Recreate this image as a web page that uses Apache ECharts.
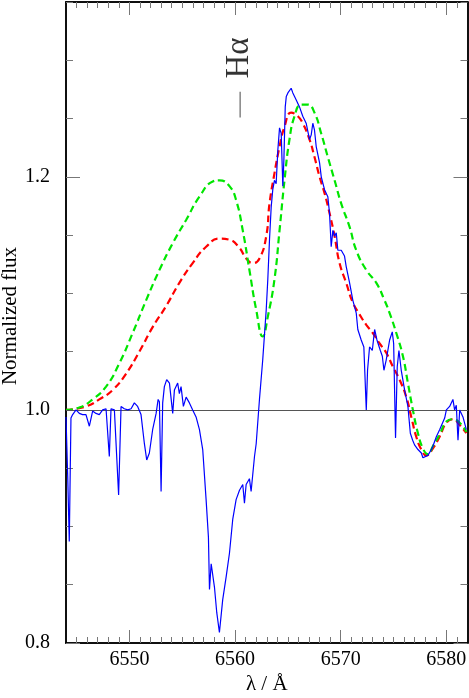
<!DOCTYPE html>
<html><head><meta charset="utf-8">
<script src="https://cdn.jsdelivr.net/npm/echarts@6/dist/echarts.min.js"></script>
<style>html,body{margin:0;padding:0;background:#fff}#c{width:469px;height:698px}</style>
</head><body><div id="c"></div>
<script>
// Observed spectrum (blue): [wavelength Å, normalized flux]
const observed = [
[6544.00,0.994],[6544.17,0.940],[6544.31,0.887],[6544.47,0.993],[6544.63,0.996],[6544.95,1.000],[6545.26,0.997],[6545.57,0.996],[6545.89,0.996],[6546.21,0.986],[6546.52,0.999],[6546.84,0.997],[6547.15,0.996],[6547.47,1.000],[6547.79,1.001],[6548.10,0.960],[6548.26,1.001],[6548.58,1.000],[6548.98,0.927],[6549.21,1.003],[6549.52,1.001],[6549.84,1.000],[6550.16,1.001],[6550.47,1.006],[6550.78,1.003],[6551.10,0.996],[6551.42,0.971],[6551.64,0.957],[6551.89,0.963],[6552.20,0.983],[6552.53,0.997],[6552.72,1.009],[6552.84,1.007],[6553.00,0.930],[6553.15,1.006],[6553.31,1.020],[6553.53,1.026],[6553.79,1.023],[6554.10,0.997],[6554.26,1.017],[6554.57,1.023],[6554.73,1.014],[6554.89,1.020],[6555.11,1.003],[6555.37,1.011],[6555.68,1.006],[6555.99,1.000],[6556.31,0.994],[6556.63,0.983],[6556.94,0.966],[6557.26,0.923],[6557.48,0.891],[6557.58,0.846],[6557.74,0.868],[6558.05,0.848],[6558.27,0.826],[6558.52,0.809],[6558.83,0.837],[6559.16,0.857],[6559.47,0.877],[6559.78,0.906],[6560.10,0.923],[6560.42,0.931],[6560.73,0.936],[6560.89,0.920],[6561.05,0.936],[6561.36,0.941],[6561.52,0.930],[6561.84,0.960],[6562.00,0.971],[6562.31,1.009],[6562.62,1.043],[6562.95,1.086],[6563.10,1.112],[6563.26,1.146],[6563.42,1.174],[6563.57,1.189],[6563.73,1.197],[6563.89,1.194],[6564.05,1.223],[6564.21,1.242],[6564.37,1.237],[6564.52,1.192],[6564.62,1.214],[6564.75,1.260],[6564.85,1.269],[6565.00,1.272],[6565.15,1.272],[6565.31,1.276],[6565.47,1.272],[6565.63,1.273],[6565.79,1.266],[6566.10,1.260],[6566.41,1.252],[6566.73,1.246],[6567.05,1.232],[6567.21,1.236],[6567.36,1.246],[6567.52,1.240],[6567.68,1.226],[6568.00,1.212],[6568.16,1.200],[6568.47,1.189],[6568.78,1.183],[6568.94,1.169],[6569.10,1.140],[6569.26,1.154],[6569.42,1.149],[6569.58,1.152],[6569.73,1.137],[6570.05,1.137],[6570.36,1.132],[6570.52,1.123],[6570.84,1.109],[6571.15,1.094],[6571.47,1.083],[6571.62,1.069],[6571.94,1.060],[6572.19,1.054],[6572.42,1.000],[6572.54,1.034],[6572.73,1.054],[6572.99,1.051],[6573.21,1.069],[6573.43,1.060],[6573.75,1.051],[6573.94,1.046],[6574.09,1.034],[6574.31,1.043],[6574.63,1.060],[6574.88,1.067],[6575.01,1.057],[6575.19,0.976],[6575.35,1.037],[6575.51,1.051],[6575.73,1.034],[6576.05,1.017],[6576.36,1.003],[6576.59,0.980],[6576.81,0.974],[6576.99,0.970],[6577.31,0.966],[6577.63,0.963],[6577.78,0.959],[6577.94,0.959],[6578.25,0.961],[6578.58,0.966],[6578.73,0.969],[6579.05,0.977],[6579.36,0.983],[6579.52,0.984],[6579.84,0.993],[6580.00,1.000],[6580.31,1.003],[6580.62,1.009],[6580.78,1.000],[6580.94,1.004],[6581.10,0.974],[6581.26,1.000],[6581.57,0.994],[6581.89,0.983]
];
// Model 1 (red dashed)
const modelRed = [
[6544.00,1.000],[6545.89,1.003],[6547.15,1.009],[6548.41,1.017],[6549.68,1.031],[6550.94,1.050],[6552.20,1.071],[6553.47,1.089],[6554.73,1.109],[6555.99,1.126],[6557.26,1.140],[6558.52,1.147],[6559.47,1.146],[6560.42,1.139],[6561.05,1.130],[6561.68,1.126],[6562.31,1.130],[6562.95,1.149],[6563.26,1.177],[6563.73,1.203],[6564.21,1.226],[6564.68,1.243],[6565.31,1.255],[6565.94,1.252],[6566.41,1.246],[6567.05,1.232],[6567.52,1.217],[6568.00,1.200],[6568.47,1.186],[6568.94,1.169],[6569.42,1.149],[6569.89,1.126],[6570.52,1.109],[6571.15,1.092],[6571.78,1.082],[6572.42,1.073],[6573.04,1.066],[6573.68,1.057],[6574.31,1.049],[6574.94,1.037],[6575.57,1.026],[6576.21,1.011],[6576.68,0.994],[6577.15,0.977],[6577.63,0.966],[6578.10,0.961],[6578.73,0.967],[6579.36,0.977],[6580.00,0.989],[6580.62,0.992],[6581.26,0.987],[6581.89,0.980]
];
// Model 2 (green dashed)
const modelGreen = [
[6544.00,1.000],[6545.26,1.002],[6546.52,1.009],[6547.79,1.020],[6549.05,1.040],[6550.31,1.066],[6551.58,1.094],[6552.84,1.120],[6554.10,1.143],[6555.37,1.163],[6556.63,1.183],[6557.89,1.196],[6558.52,1.197],[6559.47,1.192],[6560.10,1.180],[6560.73,1.154],[6561.36,1.120],[6562.00,1.086],[6562.62,1.063],[6563.10,1.080],[6563.73,1.112],[6564.21,1.154],[6564.68,1.197],[6565.15,1.232],[6565.63,1.252],[6566.26,1.262],[6566.89,1.262],[6567.52,1.255],[6568.16,1.237],[6568.78,1.217],[6569.42,1.197],[6570.05,1.177],[6570.84,1.157],[6571.47,1.137],[6572.42,1.120],[6573.37,1.109],[6574.15,1.094],[6574.63,1.083],[6575.26,1.066],[6575.89,1.046],[6576.36,1.023],[6576.83,1.000],[6577.31,0.980],[6577.78,0.967],[6578.25,0.962],[6578.73,0.969],[6579.36,0.979],[6580.00,0.990],[6580.62,0.992],[6581.26,0.989],[6581.89,0.981]
];
const xMajorTicks = [6550, 6560, 6570, 6580];
const xMinorTicks = [6545,6546,6547,6548,6549,6551,6552,6553,6554,6555,6556,6557,6558,6559,6561,6562,6563,6564,6565,6566,6567,6568,6569,6571,6572,6573,6574,6575,6576,6577,6578,6579,6581];
const yMajorTicks = [0.8, 1.0, 1.2];
const yMinorTicks = [0.85, 0.9, 0.95, 1.05, 1.1, 1.15, 1.25, 1.3, 1.35];
const xTitle = 'λ / Å';
const yTitle = 'Normalized flux';
const lineLabel = 'Hα';
const lineLabelPos = [6560.4, 1.302];
const lineMarker = [[6560.48, 1.251], [6560.48, 1.273]];

const FONT = 'Liberation Serif';
const X0 = 6544, X1 = 6582, Y0 = 0.8, Y1 = 1.35;
function xAx(pos, vals, len, labels, extra) {
  return Object.assign({
    type: 'value', min: X0, max: X1, position: pos,
    axisLine: { show: true, onZero: false, lineStyle: { color: '#000', width: 1.5 } },
    axisTick: { show: true, inside: true, length: len, customValues: vals, lineStyle: { color: '#777', width: 1 } },
    axisLabel: labels ? { show: true, customValues: xMajorTicks, fontFamily: FONT, fontSize: 20, color: '#000', margin: 7, formatter: v => String(Math.round(v)) } : { show: false },
    splitLine: { show: false }
  }, extra || {});
}
function yAx(pos, vals, len, labels, extra) {
  return Object.assign({
    type: 'value', min: Y0, max: Y1, position: pos,
    axisLine: { show: true, onZero: false, lineStyle: { color: '#000', width: 1.5 } },
    axisTick: { show: true, inside: true, length: len, customValues: vals, lineStyle: { color: '#777', width: 1 } },
    axisLabel: labels ? { show: true, customValues: yMajorTicks, fontFamily: FONT, fontSize: 20, color: '#000', margin: 16, formatter: v => v.toFixed(1) } : { show: false },
    splitLine: { show: false }
  }, extra || {});
}
const chart = echarts.init(document.getElementById('c'), null, { renderer: 'canvas' });
chart.setOption({
  animation: false,
  backgroundColor: '#fff',
  grid: { left: 66, right: 1.5, top: 2, bottom: 55, containLabel: false, outerBoundsMode: 'none' },
  graphic: [
    { type: 'text', x: 10, y: 316, rotation: Math.PI / 2, silent: true,
      style: { text: yTitle, fontFamily: FONT, fontSize: 21, fill: '#000', align: 'center', verticalAlign: 'middle' } }
  ],
  xAxis: [
    xAx('bottom', xMajorTicks, 13, true, { name: xTitle, nameLocation: 'middle', nameGap: 31, nameMoveOverlap: false, nameTextStyle: { fontFamily: FONT, fontSize: 21, color: '#000' } }),
    xAx('bottom', xMinorTicks, 6, false),
    xAx('top', xMajorTicks, 13, false),
    xAx('top', xMinorTicks, 6, false)
  ],
  yAxis: [
    yAx('left', yMajorTicks, 14, true),
    yAx('left', yMinorTicks, 7, false),
    yAx('right', yMajorTicks, 14, false),
    yAx('right', yMinorTicks, 7, false)
  ],
  series: [
    { type: 'line', data: modelRed, showSymbol: false, smooth: true, z: 3,
      lineStyle: { color: '#ff0000', width: 2.2, type: [7, 4] } },
    { type: 'line', data: modelGreen, showSymbol: false, smooth: true, z: 4,
      lineStyle: { color: '#00e600', width: 2.2, type: [7, 4] } },
    { type: 'line', data: observed, showSymbol: false, z: 5,
      lineStyle: { color: '#0000ff', width: 1.2 },
      markLine: { silent: true, symbol: 'none', label: { show: false },
        lineStyle: { color: '#555', width: 1, type: 'solid' }, data: [{ yAxis: 1.0 }] } },
    { type: 'line', data: lineMarker, showSymbol: false, z: 6,
      lineStyle: { color: '#666', width: 1.2 } },
    { type: 'scatter', data: [lineLabelPos], symbolSize: 0, z: 6,
      label: { show: true, position: 'inside', rotate: 90, formatter: lineLabel,
        fontFamily: FONT, fontSize: 33, color: '#000' } }
  ]
});
</script></body></html>
